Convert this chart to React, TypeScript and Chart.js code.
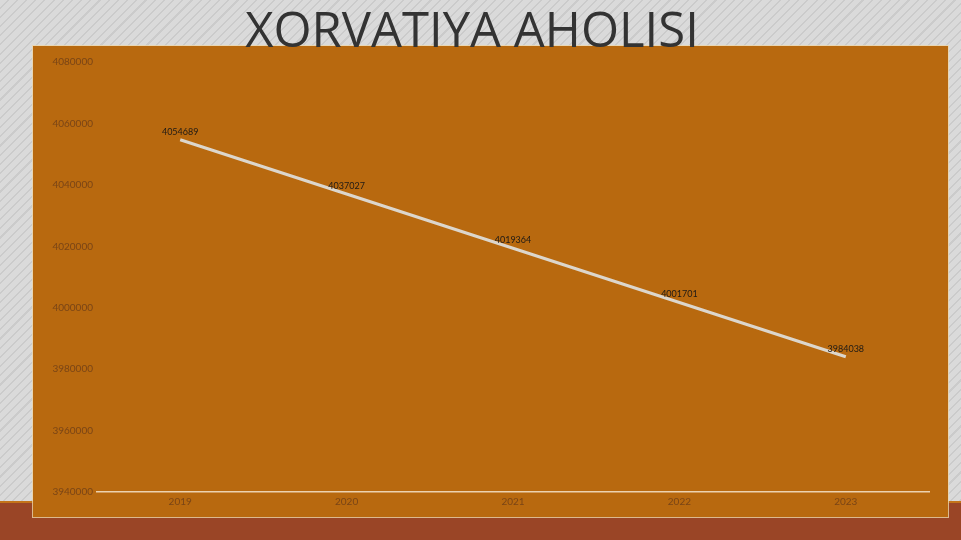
import React, { useEffect, useRef } from "react";
import { Chart, registerables } from "chart.js";

Chart.register(...registerables);

const categories = ["2019", "2020", "2021", "2022", "2023"];
const population = [4054689, 4037027, 4019364, 4001701, 3984038];
const yMin = 3940000;
const yMax = 4080000;
const yStep = 20000;
const title = "XORVATIYA AHOLISI";

const dataLabelPlugin = {
  id: "dataLabels",
  afterDatasetsDraw(chart: any) {
    const ctx = chart.ctx;
    const meta = chart.getDatasetMeta(0);
    ctx.save();
    ctx.font = "9px Lato";
    ctx.fillStyle = "#1e1a16";
    ctx.textAlign = "center";
    ctx.textBaseline = "middle";
    meta.data.forEach((pt: any, i: number) => {
      ctx.fillText(String(population[i]), pt.x, pt.y - 8);
    });
    ctx.restore();
  },
};

export default function App() {
  const ref = useRef<HTMLCanvasElement>(null);
  useEffect(() => {
    if (!ref.current) return;
    const chart = new Chart(ref.current, {
      type: "line",
      data: {
        labels: categories,
        datasets: [
          {
            data: population,
            borderColor: "#dcd6cc",
            borderWidth: 3,
            pointRadius: 0,
            tension: 0,
            fill: false,
          },
        ],
      },
      options: {
        animation: false,
        responsive: false,
        maintainAspectRatio: false,
        layout: { padding: { top: 16, right: 19, left: 0, bottom: 0 } },
        plugins: { legend: { display: false }, tooltip: { enabled: false }, title: { display: false } },
        scales: {
          x: {
            offset: true,
            grid: { display: false, drawTicks: false },
            border: { display: true, color: "#ecd2b0", width: 1.5 },
            ticks: { color: "#7a4516", font: { family: "Lato", size: 10 }, padding: 4 },
            afterFit(scale: any) {
              scale.height = 25;
            },
          },
          y: {
            min: yMin,
            max: yMax,
            grid: { display: false, drawTicks: false },
            border: { display: false },
            ticks: {
              stepSize: yStep,
              color: "#7a4516",
              font: { family: "Lato", size: 10 },
              padding: 4,
              callback: (v: any) => String(v),
            },
            afterFit(scale: any) {
              scale.width = 64;
            },
          },
        },
      },
      plugins: [dataLabelPlugin],
    });
    return () => chart.destroy();
  }, []);

  return (
    <div
      style={{
        position: "fixed",
        left: 0,
        top: 0,
        width: 961,
        height: 540,
        overflow: "hidden",
        background:
          "repeating-linear-gradient(135deg, #dadada 0px, #dadada 5px, #cbcbcb 5px, #cbcbcb 6.5px)",
      }}
    >
      <div style={{ position: "absolute", left: 0, top: 501, width: 961, height: 2, background: "#c4741a" }} />
      <div style={{ position: "absolute", left: 0, top: 503, width: 961, height: 37, background: "#9a4526" }} />
      <div
        style={{
          position: "absolute",
          left: 33,
          top: 46,
          width: 915,
          height: 471,
          background: "#b8690f",
          boxShadow: "0 0 0 1px rgba(236,214,170,0.8)",
        }}
      >
        <canvas ref={ref} width={915} height={471} style={{ display: "block", width: 915, height: 471 }} />
      </div>
      <div
        style={{
          position: "absolute",
          left: 0,
          top: 0,
          width: 944,
          textAlign: "center",
          fontFamily: "'Open Sans', sans-serif",
          fontSize: 49,
          lineHeight: "56px",
          color: "#333333",
          letterSpacing: 0,
          whiteSpace: "nowrap",
        }}
      >
        {title}
      </div>
    </div>
  );
}
